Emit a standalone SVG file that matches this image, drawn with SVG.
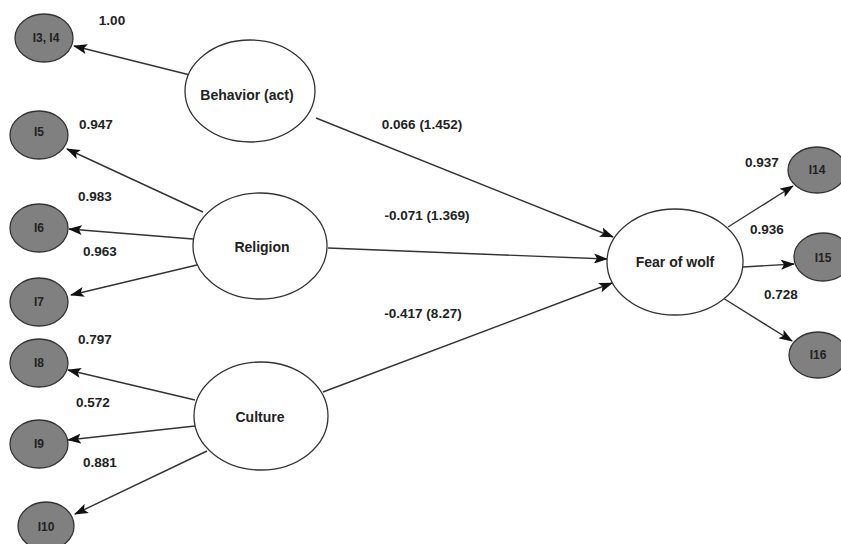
<svg xmlns="http://www.w3.org/2000/svg" width="841" height="544" viewBox="0 0 841 544">
<defs>
<marker id="ah" markerUnits="userSpaceOnUse" markerWidth="14" markerHeight="10" refX="13" refY="5" orient="auto">
<path d="M0,0 L14,5 L0,10 L3,5 z" fill="#111"/>
</marker>
<style>
.lat{fill:#fff;stroke:#333;stroke-width:1.3}
.ind{fill:#808080;stroke:#333;stroke-width:1.3}
.nt{font-family:"Liberation Sans",Arial,sans-serif;font-weight:bold;font-size:14px;fill:#222;text-anchor:middle;dominant-baseline:central}
.it{font-family:"Liberation Sans",Arial,sans-serif;font-weight:bold;font-size:12px;fill:#222;text-anchor:middle;dominant-baseline:central}
.lb{font-family:"Liberation Sans",Arial,sans-serif;font-weight:bold;font-size:13.5px;fill:#222;text-anchor:middle;dominant-baseline:central}
.c{stroke:#333;stroke-width:1.4;fill:none;marker-end:url(#ah)}
</style>
</defs>
<rect width="841" height="544" fill="#fff"/>
<g id="connectors">
<line class="c" x1="190" y1="75" x2="74" y2="46"/>
<line class="c" x1="316" y1="118" x2="613" y2="237"/>
<line class="c" x1="203" y1="212" x2="67" y2="149"/>
<line class="c" x1="193" y1="239" x2="69" y2="229"/>
<line class="c" x1="197" y1="265" x2="71" y2="295"/>
<line class="c" x1="328" y1="248" x2="607" y2="259"/>
<line class="c" x1="195" y1="400" x2="68" y2="370"/>
<line class="c" x1="195" y1="426" x2="68" y2="440"/>
<line class="c" x1="207" y1="451" x2="75" y2="514"/>
<line class="c" x1="323" y1="392" x2="612" y2="283"/>
<line class="c" x1="728" y1="227" x2="793" y2="186"/>
<line class="c" x1="743" y1="267" x2="794" y2="264"/>
<line class="c" x1="723" y1="298" x2="792" y2="341"/>
</g>
<g id="behavior"><ellipse class="lat" cx="250" cy="91" rx="65" ry="51"/><text class="nt" x="247" y="95">Behavior (act)</text></g>
<g id="religion"><ellipse class="lat" cx="260" cy="246" rx="67" ry="53"/><text class="nt" x="262" y="247">Religion</text></g>
<g id="culture"><ellipse class="lat" cx="261" cy="416" rx="67" ry="54"/><text class="nt" x="260" y="417">Culture</text></g>
<g id="fear"><ellipse class="lat" cx="675" cy="262" rx="68" ry="53"/><text class="nt" x="675" y="262">Fear of wolf</text></g>
<g id="i3i4"><ellipse class="ind" cx="44" cy="38" rx="29" ry="24"/><text class="it" x="46" y="38">I3, I4</text></g>
<g id="i5"><ellipse class="ind" cx="39" cy="135" rx="29" ry="24"/><text class="it" x="39" y="132">I5</text></g>
<g id="i6"><ellipse class="ind" cx="39" cy="228" rx="29" ry="24"/><text class="it" x="39" y="228">I6</text></g>
<g id="i7"><ellipse class="ind" cx="39" cy="302" rx="29" ry="24"/><text class="it" x="39" y="302">I7</text></g>
<g id="i8"><ellipse class="ind" cx="39" cy="363" rx="29" ry="24"/><text class="it" x="39" y="363">I8</text></g>
<g id="i9"><ellipse class="ind" cx="39" cy="444" rx="29" ry="24"/><text class="it" x="39" y="444">I9</text></g>
<g id="i10"><ellipse class="ind" cx="46" cy="526" rx="28" ry="24"/><text class="it" x="46" y="527">I10</text></g>
<g id="i14"><ellipse class="ind" cx="817" cy="170" rx="29" ry="23"/><text class="it" x="817" y="170">I14</text></g>
<g id="i15"><ellipse class="ind" cx="823" cy="257" rx="29" ry="24"/><text class="it" x="823" y="258">I15</text></g>
<g id="i16"><ellipse class="ind" cx="818" cy="355" rx="29" ry="23"/><text class="it" x="818" y="355">I16</text></g>
<g id="labels">
<text class="lb" x="112" y="20">1.00</text>
<text class="lb" x="96" y="124">0.947</text>
<text class="lb" x="95" y="196">0.983</text>
<text class="lb" x="100" y="251">0.963</text>
<text class="lb" x="95" y="339">0.797</text>
<text class="lb" x="93" y="402">0.572</text>
<text class="lb" x="100" y="462">0.881</text>
<text class="lb" x="422" y="124">0.066 (1.452)</text>
<text class="lb" x="427" y="215">-0.071 (1.369)</text>
<text class="lb" x="423" y="313">-0.417 (8.27)</text>
<text class="lb" x="762" y="162">0.937</text>
<text class="lb" x="767" y="229">0.936</text>
<text class="lb" x="781" y="294">0.728</text>
</g>
</svg>
